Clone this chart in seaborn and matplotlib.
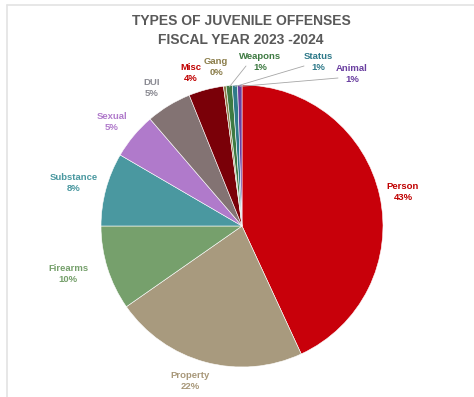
import matplotlib
matplotlib.use("Agg")
import matplotlib.pyplot as plt
import seaborn as sns
import numpy as np
from matplotlib.lines import Line2D

sns.set_theme(style="white")
plt.rcParams['font.family'] = ['Liberation Sans', 'DejaVu Sans']

categories = ["Person", "Property", "Firearms", "Substance", "Sexual", "DUI",
              "Misc", "Gang", "Weapons", "Status", "Animal"]
values = [43.1, 22.2, 9.7, 8.4, 5.3, 5.2, 4.0, 0.3, 0.7, 0.6, 0.5]
pct_labels = ["43%", "22%", "10%", "8%", "5%", "5%", "4%", "0%", "1%", "1%", "1%"]
wedge_colors = ["#C8000A", "#A89A7E", "#76A06C", "#4A98A0", "#B07ACB", "#837373",
                "#7A0008", "#8B7D4A", "#3E7A42", "#2F7A8A", "#6A3FA0"]
text_colors = ["#C00000", "#A8987A", "#76A06C", "#4A98A0", "#B07ACB", "#8A8A92",
               "#C00000", "#8B7D4A", "#3E7A42", "#2F7A8A", "#6A3FA0"]
# label centers in pixel coords (x, y from top)
label_pos = [(403, 192), (190, 381), (68, 274), (74, 183), (112, 122), (152, 88),
             (191, 73), (216, 67), (260, 62), (318, 62), (352, 74)]
leader = [False, False, False, False, False, False, False, False, True, True, True]

W, H = 474, 397
fig = plt.figure(figsize=(W / 100, H / 100), dpi=100)
fig.patch.set_facecolor("white")

cx, cy, r = 242, 226, 141
ax = fig.add_axes([(cx - r) / W, 1 - (cy + r) / H, 2 * r / W, 2 * r / H])
wedges, _ = ax.pie(values, colors=wedge_colors, startangle=90, counterclock=False,
                   radius=1.0, wedgeprops=dict(linewidth=0.4, edgecolor="white"))
ax.set_xlim(-1.0, 1.0)
ax.set_ylim(-1.0, 1.0)
ax.set_aspect("equal")
ax.axis("off")

for i, (cat, pl) in enumerate(zip(categories, pct_labels)):
    px, py = label_pos[i]
    fig.text(px / W, 1 - py / H, f"{cat}\n{pl}", ha="center", va="center",
             fontsize=6.8, fontweight="bold", color=text_colors[i],
             linespacing=1.2)
    if leader[i]:
        w = wedges[i]
        ang = np.deg2rad((w.theta1 + w.theta2) / 2)
        ex, ey = np.cos(ang) * 0.99, np.sin(ang) * 0.99
        tx, ty = px - 14, py + 4
        disp = (tx, H - ty)
        dx, dy = ax.transData.inverted().transform(disp)
        ax.plot([dx, ex], [dy, ey], color="#A6A6A6", lw=0.6, clip_on=False)

fig.text(241 / W, 1 - 21 / H, "TYPES OF JUVENILE OFFENSES", ha="center", va="center",
         fontsize=10, fontweight="bold", color="#595959")
fig.text(241 / W, 1 - 40 / H, "FISCAL YEAR 2023 -2024", ha="center", va="center",
         fontsize=10, fontweight="bold", color="#595959")

# screenshot border lines
fig.add_artist(Line2D([7 / W, 1], [1 - 5 / H, 1 - 5 / H], color="#E3E3E3", lw=1.2))
fig.add_artist(Line2D([7 / W, 7 / W], [0, 1 - 5 / H], color="#E3E3E3", lw=1.2))

fig.savefig("out.png", dpi=100, facecolor="white")
